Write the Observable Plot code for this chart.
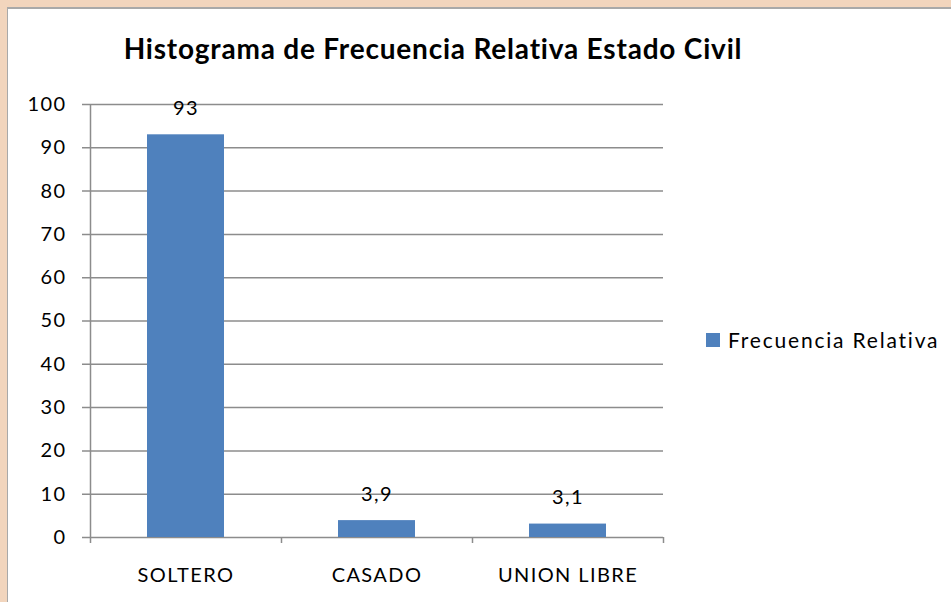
<!DOCTYPE html>
<html>
<head>
<meta charset="utf-8">
<script src="https://cdn.jsdelivr.net/npm/d3@7"></script>
<script src="https://cdn.jsdelivr.net/npm/@observablehq/plot@0.6"></script>
<style>
  html, body { margin: 0; padding: 0; width: 951px; height: 602px; overflow: hidden; background: #f2d5bd; }
  #card { position: absolute; left: 7px; top: 7px; right: 0; bottom: 0; background: #fff; border-top: 2px solid #a9a9a9; border-left: 1px solid #a9a9a9; }
  #title { position: absolute; left: 0; top: 31px; width: 866px; height: 34px; line-height: 34px; text-align: center; font-family: Lato, "Open Sans", sans-serif; font-weight: bold; font-size: 28px; letter-spacing: 0.8px; color: #000; white-space: nowrap; }
  #chart { position: absolute; left: 0; top: 80px; }
  #legend { position: absolute; left: 706px; top: 326px; height: 28px; line-height: 28px; font-family: Lato, "Open Sans", sans-serif; font-size: 21px; letter-spacing: 1.8px; color: #000; display: flex; align-items: center; white-space: nowrap; }
  #legend .sw { width: 14px; height: 14px; background: #4f81bd; margin-right: 8px; }
</style>
</head>
<body>
<div id="card"></div>
<div id="title">Histograma de Frecuencia Relativa Estado Civil</div>
<div id="chart"></div>
<div id="legend"><div class="sw"></div><span id="legendLabel"></span></div>
<script>
const categories = ["SOLTERO", "CASADO", "UNION LIBRE"];
const values = [93, 3.9, 3.1];
const valueLabels = ["93", "3,9", "3,1"];
const yTicks = [0, 10, 20, 30, 40, 50, 60, 70, 80, 90, 100];
const seriesName = "Frecuencia Relativa";

document.getElementById("legendLabel").textContent = seriesName;

const data = categories.map((c, i) => ({cat: c, value: values[i], label: valueLabels[i]}));
const grey = "#8c8c8c";
const W = 700, ML = 90, MR = 37;
const step = (W - ML - MR) / categories.length;

const chart = Plot.plot({
  width: W,
  height: 522,
  marginLeft: ML,
  marginRight: MR,
  marginTop: 24,
  marginBottom: 65,
  style: {background: "none", fontFamily: "Lato, 'Open Sans', sans-serif", fontSize: "20px", letterSpacing: "1.4px", color: "#000", overflow: "visible"},
  x: {domain: categories, paddingInner: 0.597, paddingOuter: 0.2985, tickSize: 0, tickPadding: 30, label: null},
  y: {domain: [0, 100], ticks: yTicks, tickSize: 0, tickPadding: 24, label: null},
  marks: [
    Plot.ruleY(yTicks, {stroke: grey, strokeWidth: 1.5, insetLeft: -8}),
    Plot.ruleX([categories[0]], {x: d => d, y1: 100, y2: 0, dx: -step / 2, insetBottom: -6, stroke: grey, strokeWidth: 1.5}),
    Plot.ruleX(categories.slice(1), {x: d => d, y1: 0, y2: 0, dx: -step / 2, insetBottom: -6, stroke: grey, strokeWidth: 1.5}),
    Plot.ruleX([categories[categories.length - 1]], {x: d => d, y1: 0, y2: 0, dx: step / 2, insetBottom: -6, stroke: grey, strokeWidth: 1.5}),
    Plot.barY(data, {x: "cat", y: "value", fill: "#4f81bd"}),
    Plot.text(data, {x: "cat", y: "value", text: "label", dy: -26, fill: "#000", fontSize: 20})
  ]
});
document.getElementById("chart").appendChild(chart);
</script>
</body>
</html>
